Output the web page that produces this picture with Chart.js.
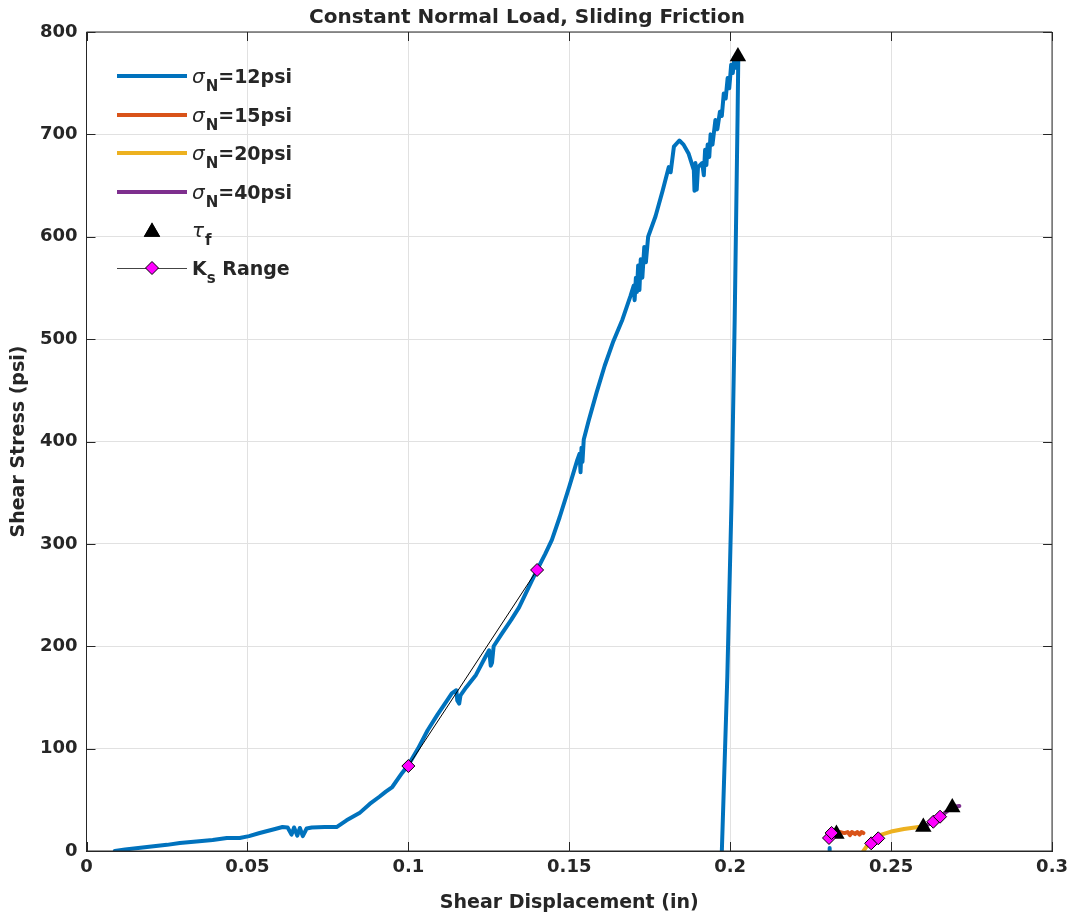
<!DOCTYPE html>
<html>
<head>
<meta charset="utf-8">
<script src="https://cdn.jsdelivr.net/npm/chart.js@4.4.1/dist/chart.umd.min.js"></script>
<style>
html, body { margin: 0; padding: 0; background: #fff; }
</style>
</head>
<body>
<canvas id="chart" width="1074" height="920"></canvas>
<script>
// values
// sigma_N = 12 psi run (null = gap in the record)
const disp12 = [0.0088, 0.012, 0.0188, 0.025, 0.029, 0.035, 0.0392, 0.0436, 0.0476, 0.0505, 0.0538, 0.058, 0.0609,
  0.0625, 0.0637, 0.0645, 0.0655, 0.0663, 0.0672, 0.0684, 0.070, 0.074, 0.0777, 0.0808, 0.0848, 0.088, 0.091,
  0.093, 0.095, 0.098, 0.100, 0.103, 0.106, 0.109, 0.112, 0.1135, 0.1149, 0.1152, 0.1158, 0.1162, 0.118, 0.121,
  0.124, 0.1251, 0.1256, 0.126, 0.1265, 0.129, 0.132, 0.1344, 0.137, 0.140, 0.1425, 0.1446, 0.147, 0.150, 0.1525,
  0.1532, 0.1535, 0.1538, 0.1541, 0.1545, 0.156, 0.1585, 0.161, 0.1637, 0.1665, 0.169,
  0.1700, 0.1703, 0.1707, 0.1710, 0.1714, 0.1718, 0.1722, 0.1727, 0.1733, 0.1738, 0.1745, 0.1768, 0.179,
  0.1809, 0.1815, 0.1825, 0.1842, 0.1855, 0.1871, 0.1887, 0.1889, 0.1892, 0.1896, 0.190, 0.1913,
  0.1918, 0.1922, 0.1926, 0.1930, 0.1935, 0.1939, 0.1945, 0.1954, 0.1960, 0.1968, 0.1974, 0.1980, 0.1986,
  0.1992, 0.1997, 0.2003, 0.2008, 0.2013, 0.2018, 0.2022, 0.2025,
  0.2023, 0.2014, 0.2004, 0.1991, 0.1974, 0.215, 0.2309, 0.2309];
const stress12 = [0, 1.5, 3.9, 6, 7.8, 9.5, 10.7, 12.7, 12.7, 14.5, 17.6, 21, 23.4,
  23, 16, 23, 15, 22.5, 14.5, 22, 23, 23.4, 23.4, 30, 37, 46, 53,
  58, 62.5, 76, 84, 100, 118, 133, 147, 154, 157, 147, 144, 152, 160, 172,
  190, 196, 181, 184, 200, 212, 226, 238, 255, 274.5, 290, 304, 326, 356, 382,
  388, 370, 394, 380, 402, 420, 448, 474, 498, 519, 542,
  552, 538, 560, 546, 572, 548, 578, 560, 590, 575, 600, 620, 645,
  668, 663, 688, 694, 690, 681, 665, 645, 672, 646, 668, 672,
  660, 685, 670, 690, 678, 700, 690, 714, 705, 722, 718, 740, 735,
  755, 745, 768, 760, 775, 765, 778, 772,
  720, 520, 340, 170, 0, null, 0, 3];

// sigma_N = 15 psi
const disp15 = [0.2315, 0.2325, 0.234, 0.2355, 0.2365, 0.2372, 0.2378, 0.2388, 0.2395, 0.2402, 0.2408, 0.2414];
const stress15 = [15.5, 17.5, 18.5, 17.5, 18.5, 15.5, 18.5, 16.5, 18.5, 16, 18.5, 17.5];

// sigma_N = 20 psi
const disp20 = [0.2414, 0.2425, 0.2437, 0.245, 0.247, 0.250, 0.254, 0.2585, 0.2605];
const stress20 = [0, 5, 9, 13, 16, 19, 21.5, 23.5, 24.5];

// sigma_N = 40 psi
const disp40 = [0.2615, 0.263, 0.2652, 0.267, 0.269, 0.2712];
const stress40 = [26, 28.5, 33.5, 38, 43, 44];

// failure stress tau_f of each run
const tauDisp = [0.2024, 0.2330, 0.2600, 0.2690];
const tauStress = [776, 16.6, 23.4, 42.4];

// K_s fitting range end points of each run
const ksDisp12 = [0.100, 0.140];
const ksStress12 = [83, 274.5];
const ksDisp15 = [0.2307, 0.2315];
const ksStress15 = [12.7, 17.6];
const ksDisp20 = [0.2438, 0.2460];
const ksStress20 = [7.5, 12.4];
const ksDisp40 = [0.2631, 0.2652];
const ksStress40 = [28.6, 33.5];

const xTickLabels = ['0', '0.05', '0.1', '0.15', '0.2', '0.25', '0.3'];
const yTickLabels = ['0', '100', '200', '300', '400', '500', '600', '700', '800'];

const FONT = 'DejaVu Sans';
const INK = '#262626';
const BLUE = '#0072BD', ORANGE = '#D95319', YELLOW = '#EDB120', PURPLE = '#7E2F8E', MAGENTA = '#FF00FF';

function pts(xs, ys) {
  return xs.map((x, i) => ({ x: x, y: ys[i] }));
}

function curve(label, xs, ys, color, order) {
  return {
    label: label, data: pts(xs, ys), borderColor: color, backgroundColor: color,
    borderWidth: 4, pointRadius: 0, showLine: true, spanGaps: false, order: order,
    borderJoinStyle: 'round', borderCapStyle: 'round'
  };
}

function ksRange(xs, ys) {
  return {
    label: 'Ks Range', data: pts(xs, ys), borderColor: '#000', borderWidth: 1,
    showLine: true, pointStyle: 'rectRot', pointRadius: 6.5, pointBackgroundColor: MAGENTA,
    pointBorderColor: '#000', pointBorderWidth: 1, order: 0
  };
}

// legend rows: how each entry is drawn and its text pieces (sub = subscript)
const legendRows = [
  { kind: 'line', color: BLUE, parts: [{ t: 'σ', it: true }, { t: 'N', sub: true }, { t: '=12psi' }] },
  { kind: 'line', color: ORANGE, parts: [{ t: 'σ', it: true }, { t: 'N', sub: true }, { t: '=15psi' }] },
  { kind: 'line', color: YELLOW, parts: [{ t: 'σ', it: true }, { t: 'N', sub: true }, { t: '=20psi' }] },
  { kind: 'line', color: PURPLE, parts: [{ t: 'σ', it: true }, { t: 'N', sub: true }, { t: '=40psi' }] },
  { kind: 'tri', parts: [{ t: 'τ', it: true }, { t: 'f', sub: true }] },
  { kind: 'ks', parts: [{ t: 'K' }, { t: 's', sub: true }, { t: ' Range' }] }
];

const frame = {
  id: 'frame',
  afterDraw(chart) {
    const { ctx, chartArea: a, scales } = chart;
    const len = 9;
    ctx.save();
    ctx.strokeStyle = INK;
    ctx.lineWidth = 1;
    ctx.beginPath();
    ctx.rect(a.left, a.top, a.right - a.left, a.bottom - a.top);
    scales.x.ticks.forEach(t => {
      const px = Math.round(scales.x.getPixelForValue(t.value)) + 0.5;
      ctx.moveTo(px, a.bottom); ctx.lineTo(px, a.bottom - len);
      ctx.moveTo(px, a.top); ctx.lineTo(px, a.top + len);
    });
    scales.y.ticks.forEach(t => {
      const py = Math.round(scales.y.getPixelForValue(t.value)) + 0.5;
      ctx.moveTo(a.left, py); ctx.lineTo(a.left + len, py);
      ctx.moveTo(a.right, py); ctx.lineTo(a.right - len, py);
    });
    ctx.stroke();

    // legend, top left, no box
    const x0 = 117, x1 = 187, tx = 192;
    const rowY = [76, 115, 153, 192, 230, 268];
    legendRows.forEach((row, i) => {
      const y = rowY[i];
      if (row.kind === 'line') {
        ctx.strokeStyle = row.color; ctx.lineWidth = 4;
        ctx.beginPath(); ctx.moveTo(x0, y); ctx.lineTo(x1, y); ctx.stroke();
      } else if (row.kind === 'tri') {
        ctx.fillStyle = '#000';
        Chart.helpers.drawPoint(ctx, { pointStyle: 'triangle', radius: 9.5, borderWidth: 0 }, (x0 + x1) / 2, y + 2);
        ctx.fill();
      } else {
        ctx.strokeStyle = '#444'; ctx.lineWidth = 1;
        ctx.beginPath(); ctx.moveTo(x0, y + 0.5); ctx.lineTo(x1, y + 0.5); ctx.stroke();
        ctx.fillStyle = MAGENTA; ctx.strokeStyle = '#000';
        Chart.helpers.drawPoint(ctx, { pointStyle: 'rectRot', radius: 6.5, borderWidth: 1 }, (x0 + x1) / 2, y);
      }
      let cx = tx;
      ctx.fillStyle = INK;
      ctx.textBaseline = 'alphabetic';
      row.parts.forEach(p => {
        ctx.font = p.sub ? 'bold 15px "' + FONT + '"' : (p.it ? 'italic 20px "' + FONT + '"' : 'bold 19px "' + FONT + '"');
        const by = y + 7 + (p.sub ? 8 : 0);
        ctx.fillText(p.t, cx, by);
        cx += ctx.measureText(p.t).width + (p.it ? 1 : 0);
      });
    });
    ctx.restore();
  }
};

const tickFont = { family: FONT, size: 18, weight: 'bold' };
const labelFont = { family: FONT, size: 19, weight: 'bold', lineHeight: 1.2 };

new Chart(document.getElementById('chart'), {
  type: 'scatter',
  data: {
    datasets: [
      ksRange(ksDisp12, ksStress12),
      ksRange(ksDisp15, ksStress15),
      ksRange(ksDisp20, ksStress20),
      ksRange(ksDisp40, ksStress40),
      {
        label: 'τf', data: pts(tauDisp, tauStress), pointStyle: 'triangle', pointRadius: 9.5,
        pointBackgroundColor: '#000', pointBorderColor: '#000', pointBorderWidth: 0, showLine: false, order: 1
      },
      curve('σN=40psi', disp40, stress40, PURPLE, 2),
      curve('σN=20psi', disp20, stress20, YELLOW, 3),
      curve('σN=15psi', disp15, stress15, ORANGE, 4),
      curve('σN=12psi', disp12, stress12, BLUE, 5)
    ]
  },
  options: {
    responsive: false,
    animation: false,
    devicePixelRatio: 1,
    layout: { padding: { left: 0, right: 20, top: 0, bottom: 0 } },
    plugins: {
      legend: { display: false },
      tooltip: { enabled: false },
      title: {
        display: true, text: 'Constant Normal Load, Sliding Friction', color: INK,
        font: { family: FONT, size: 20, weight: 'bold', lineHeight: 1.2 },
        padding: { top: 6, bottom: 2 }
      }
    },
    scales: {
      x: {
        type: 'linear', min: 0, max: 0.3,
        ticks: { stepSize: 0.05, color: INK, font: tickFont, padding: 6, maxRotation: 0,
          callback: (v, i) => xTickLabels[i] },
        grid: { color: '#e1e1e1', drawTicks: false },
        border: { color: INK },
        title: { display: true, text: 'Shear Displacement (in)', color: INK, font: labelFont,
          padding: { top: 0, bottom: 6 } },
        afterFit: s => { s.height = 69; }
      },
      y: {
        type: 'linear', min: 0, max: 800,
        ticks: { stepSize: 100, color: INK, font: tickFont, padding: 9,
          callback: (v, i) => yTickLabels[i] },
        grid: { color: '#e1e1e1', drawTicks: false },
        border: { color: INK },
        title: { display: true, text: 'Shear Stress (psi)', color: INK, font: labelFont,
          padding: { top: 8, bottom: 0 } },
        afterFit: s => { s.width = 86.5; }
      }
    }
  },
  plugins: [frame]
});
</script>
</body>
</html>
